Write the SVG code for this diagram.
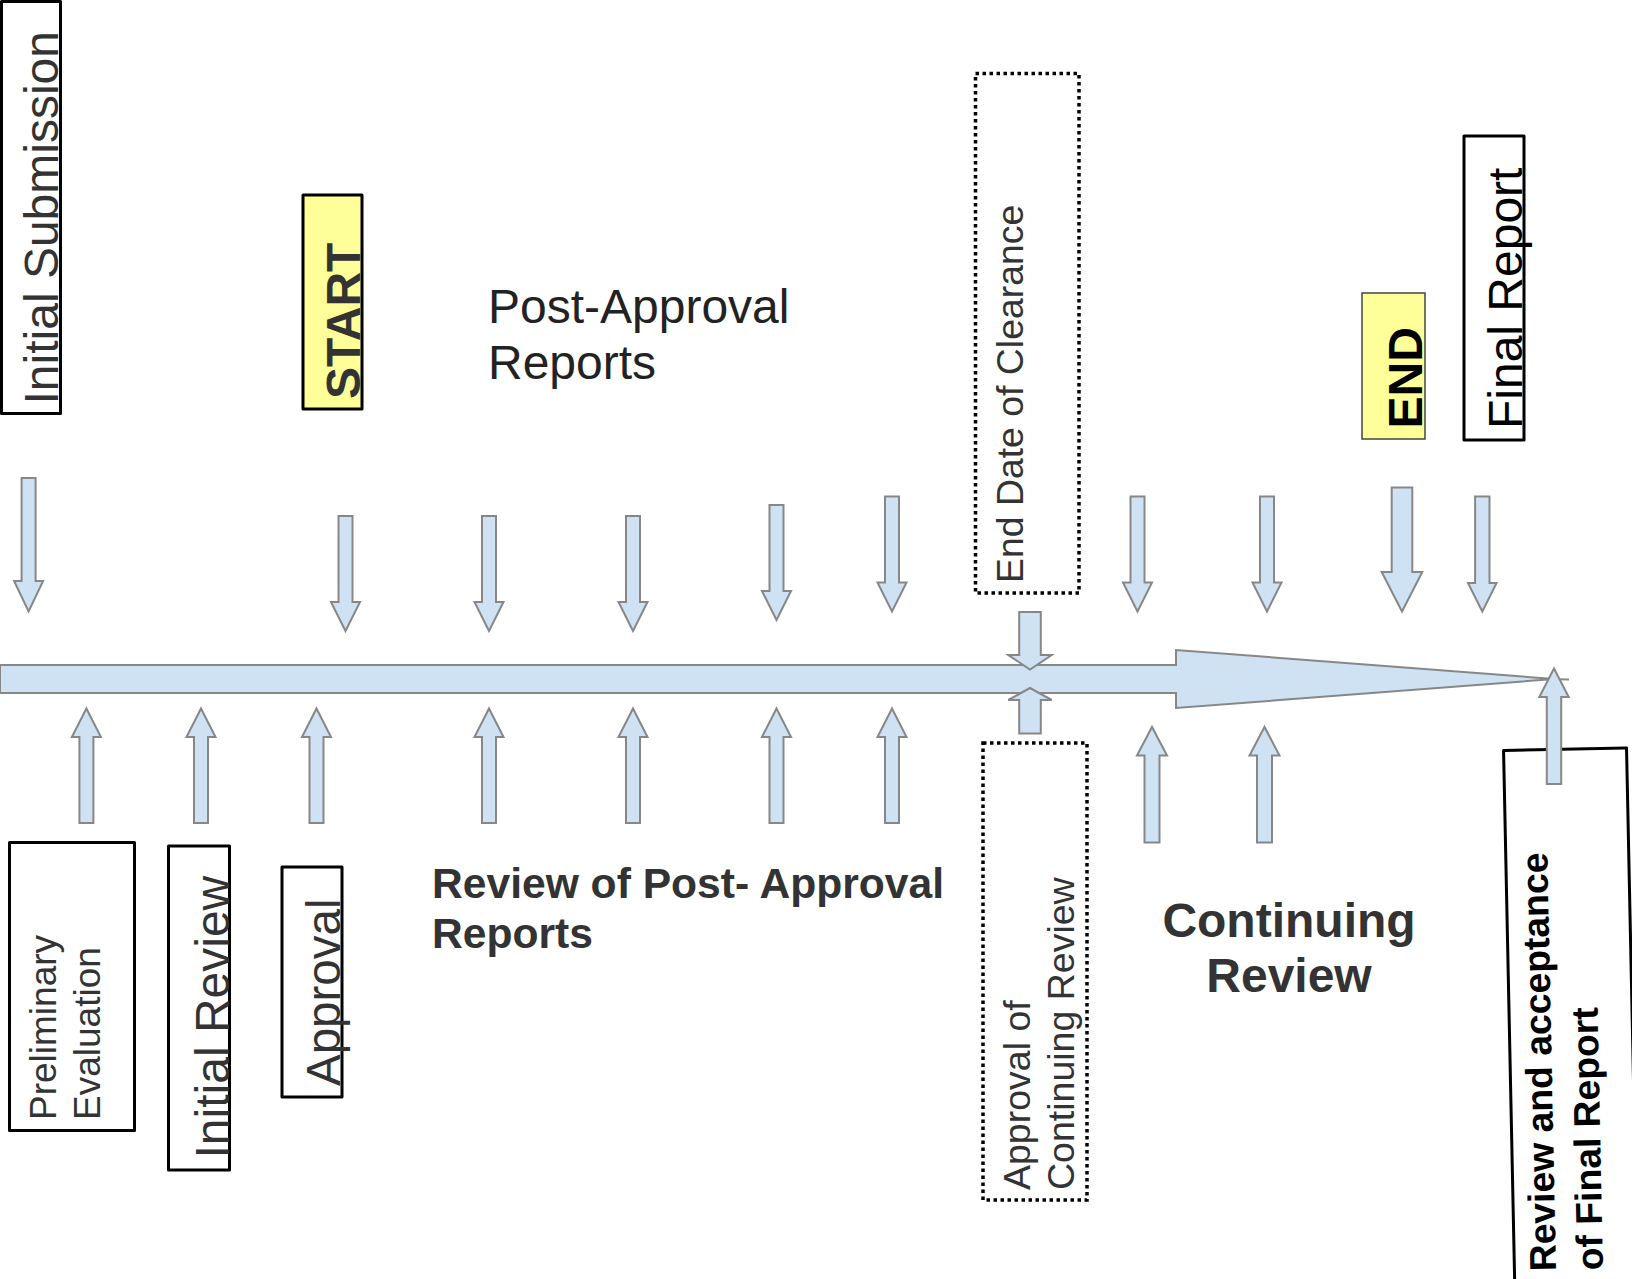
<svg xmlns="http://www.w3.org/2000/svg" width="1632" height="1279" viewBox="0 0 1632 1279">
<style>
.t{font-family:"Liberation Sans",Arial,sans-serif;fill:#333}
.b{font-weight:bold}
.box{fill:#fff;stroke:#000;stroke-width:3;stroke-linejoin:round}
.dot{fill:#fff;stroke:#000;stroke-width:3.5;stroke-dasharray:3.5 3.5}
.hl{fill:#ffff99}
.ar{fill:#cfe2f3;stroke:#878787;stroke-width:2;stroke-linejoin:miter}
</style>
<rect width="1632" height="1279" fill="#fff"/>

<g id="main-timeline">
<polygon class="ar" points="0,665 1176,665 1176,650 1554,679 1176,708 1176,693 0,693"/>
<line x1="1540" y1="679" x2="1569" y2="679.5" stroke="#878787" stroke-width="2"/>
</g>

<g id="initial-submission">
<rect class="box" x="1.5" y="1.5" width="59" height="412"/>
<text class="t" font-size="48" transform="translate(58,404.5) rotate(-90)">Initial Submission</text>
</g>

<g id="start">
<rect class="box hl" x="303" y="195" width="59" height="214"/>
<text class="t b" font-size="48" transform="translate(360,399) rotate(-90)">START</text>
</g>

<g id="post-approval-reports">
<text class="t" font-size="48" style="fill:#222" x="488" y="323">Post-Approval<tspan x="488" y="379">Reports</tspan></text>
</g>

<g id="end-date-of-clearance">
<rect class="dot" x="975.5" y="73.5" width="103.5" height="519.5"/>
<text class="t" font-size="37.4" transform="translate(1023,583) rotate(-90)">End Date of Clearance</text>
</g>

<g id="end">
<rect x="1362" y="293" width="63" height="146" fill="#ffff99" stroke="#444" stroke-width="1.5"/>
<text class="t b" font-size="48" style="fill:#000" transform="translate(1422,428.5) rotate(-90)">END</text>
</g>

<g id="final-report">
<rect class="box" x="1464" y="136" width="60" height="304"/>
<text class="t" font-size="48" style="fill:#000" transform="translate(1522,429) rotate(-90)">Final Report</text>
</g>

<g id="preliminary-evaluation">
<rect class="box" x="9.5" y="842.5" width="125" height="288"/>
<text class="t" font-size="37" transform="translate(56,1120) rotate(-90)">Preliminary<tspan x="0" dy="44">Evaluation</tspan></text>
</g>

<g id="initial-review">
<rect class="box" x="168.5" y="846" width="61" height="324"/>
<text class="t" font-size="48" transform="translate(229,1158.5) rotate(-90)">Initial Review</text>
</g>

<g id="approval">
<rect class="box" x="282" y="867" width="60" height="230"/>
<text class="t" font-size="47.5" transform="translate(340,1086) rotate(-90)">Approval</text>
</g>

<g id="review-of-post-approval-reports">
<text class="t b" font-size="42.6" x="432" y="898">Review of Post- Approval<tspan x="432" y="948">Reports</tspan></text>
</g>

<g id="approval-of-continuing-review">
<rect class="dot" x="983" y="743" width="104" height="457"/>
<text class="t" font-size="37.5" transform="translate(1030,1190) rotate(-90)">Approval of<tspan x="0" dy="44">Continuing Review</tspan></text>
</g>

<g id="continuing-review">
<text class="t b" font-size="48" text-anchor="middle" x="1289" y="937">Continuing<tspan x="1289" y="992">Review</tspan></text>
</g>

<g id="review-acceptance-final-report" transform="translate(1565,1010) rotate(-1.2)">
<rect class="box" x="-56" y="-260.7" width="123" height="600"/>
<text class="t b" font-size="37.3" style="fill:#000" transform="translate(-14.5,260.8) rotate(-90)">Review and acceptance<tspan x="0" dy="47">of Final Report</tspan></text>
</g>

<g id="connectors">
<!-- down arrows -->
<polygon class="ar" points="21.6,478 35.6,478 35.6,581 43.1,581 28.6,611.5 14.1,581 21.6,581"/>
<polygon class="ar" points="338.5,516 352.5,516 352.5,602 360,602 345.5,631 331,602 338.5,602"/>
<polygon class="ar" points="482,516 496,516 496,602 503.5,602 489,631 474.5,602 482,602"/>
<polygon class="ar" points="626,516 640,516 640,602 647.5,602 633,631 618.5,602 626,602"/>
<polygon class="ar" points="769.5,505 783.5,505 783.5,591 791,591 776.5,620 762,591 769.5,591"/>
<polygon class="ar" points="885,496.5 899,496.5 899,582.5 906.5,582.5 892,611.5 877.5,582.5 885,582.5"/>
<polygon class="ar" points="1019.2,612 1040.8,612 1040.8,655 1051.7,655 1030,669.5 1008.3,655 1019.2,655"/>
<polygon class="ar" points="1130.5,496.5 1144.5,496.5 1144.5,582.5 1152,582.5 1137.5,611.5 1123,582.5 1130.5,582.5"/>
<polygon class="ar" points="1260,496.5 1274,496.5 1274,582.5 1281.5,582.5 1267,611.5 1252.5,582.5 1260,582.5"/>
<polygon class="ar" points="1391.7,487.5 1412.3,487.5 1412.3,572 1422.3,572 1402,611.5 1381.7,572 1391.7,572"/>
<polygon class="ar" points="1475.1,496.5 1489.5,496.5 1489.5,583 1496.6,583 1482.3,611.5 1468,583 1475.1,583"/>
<!-- up arrows -->
<polygon class="ar" points="79.4,823 93.4,823 93.4,737 100.9,737 86.4,708.5 71.9,737 79.4,737"/>
<polygon class="ar" points="194,823 208,823 208,737 215.5,737 201,708.5 186.5,737 194,737"/>
<polygon class="ar" points="309.5,823 323.5,823 323.5,737 331,737 316.5,708.5 302,737 309.5,737"/>
<polygon class="ar" points="482,823 496,823 496,737 503.5,737 489,708.5 474.5,737 482,737"/>
<polygon class="ar" points="626,823 640,823 640,737 647.5,737 633,708.5 618.5,737 626,737"/>
<polygon class="ar" points="769.5,823 783.5,823 783.5,737 791,737 776.5,708.5 762,737 769.5,737"/>
<polygon class="ar" points="885,823 899,823 899,737 906.5,737 892,708.5 877.5,737 885,737"/>
<polygon class="ar" points="1019.2,733.5 1040.8,733.5 1040.8,700 1051.7,700 1030,688 1008.3,700 1019.2,700"/>
<polygon class="ar" points="1144.5,842.5 1159.5,842.5 1159.5,755.5 1167,755.5 1152,727 1137,755.5 1144.5,755.5"/>
<polygon class="ar" points="1257,842.5 1272,842.5 1272,755.5 1279.5,755.5 1264.5,727 1249.5,755.5 1257,755.5"/>
<polygon class="ar" points="1546.8,784 1561.2,784 1561.2,697 1568.7,697 1554,668.5 1539.3,697 1546.8,697"/>
</g>
</svg>
